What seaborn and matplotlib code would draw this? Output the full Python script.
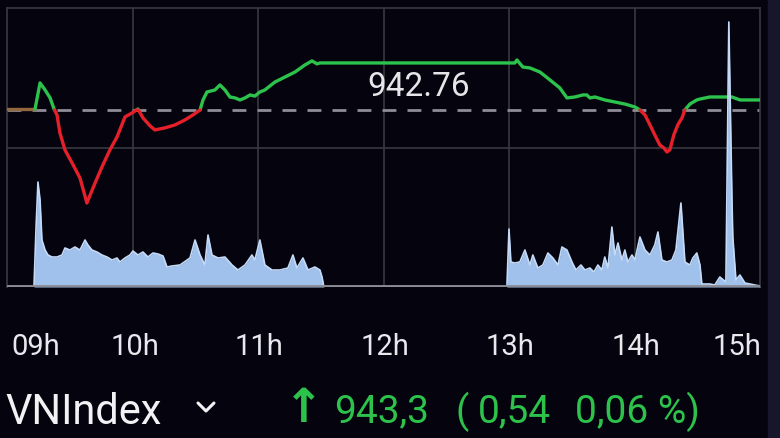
import numpy as np
import pandas as pd
import matplotlib
matplotlib.use("Agg")
import matplotlib.pyplot as plt
import seaborn as sns
from matplotlib.lines import Line2D
from matplotlib.patches import Rectangle

# intraday VN-Index, x = minutes after 09:00
ref_price = 942.76
price_min = [0, 13.4, 15.8, 18.2, 20.6, 22.5, 23.9, 25.3, 27.7, 31.1, 34.9, 38.2, 42.1, 45.4,
             49.2, 52.6, 56.4, 59.8, 62.6, 65.0, 68.4, 70.7, 75.5, 80.3, 85.1, 88.9, 92.3,
             93.7, 95.6, 99.4, 101.8, 104.2, 106.6, 109.0, 111.4, 113.8, 116.2, 118.5, 120.9,
             123.3, 128.1, 132.9, 137.7, 142.4, 145.8, 148.2, 149.6, 240.4, 242.8, 243.8,
             246.6, 250.0, 254.8, 259.6, 264.3, 267.7, 271.5, 275.3, 277.2, 278.7, 281.1,
             285.8, 290.6, 295.4, 300.2, 302.6, 305.0, 307.4, 309.7, 312.1, 314.0, 315.5,
             316.9, 318.8, 320.7, 322.7, 324.1, 326.5, 329.8, 331.3, 336.0, 340.8, 344.6,
             346.6, 350.4, 360.0]
price_val = [942.81, 942.81, 944.22, 943.84, 943.41, 942.81, 942.49, 941.52, 940.60, 939.90,
             939.08, 937.73, 938.81, 939.68, 940.60, 941.30, 942.38, 942.60, 942.81, 942.33,
             941.90, 941.68, 941.79, 941.95, 942.22, 942.49, 942.76, 943.30, 943.73, 943.84,
             944.11, 943.84, 943.46, 943.41, 943.30, 943.41, 943.57, 943.51, 943.73, 943.84,
             944.27, 944.54, 944.81, 945.19, 945.41, 945.25, 945.30, 945.30, 945.30, 945.46,
             945.08, 945.03, 944.81, 944.38, 943.95, 943.41, 943.46, 943.57, 943.57, 943.41,
             943.46, 943.30, 943.19, 943.08, 942.92, 942.76, 942.49, 941.95, 941.41, 940.87,
             940.71, 940.49, 940.60, 941.41, 941.95, 942.33, 942.76, 943.08, 943.30, 943.35,
             943.46, 943.46, 943.46, 943.46, 943.30, 943.30, 943.25]

vol_min = [0, 12.9, 13.9, 14.8, 15.8, 16.7, 18.2, 19.6, 21.5, 23.9, 26.3, 27.7, 30.1, 32.5,
           34.9, 37.3, 38.7, 40.6, 43.0, 45.4, 47.8, 50.2, 52.6, 54.0, 56.4, 58.8, 60.2,
           62.6, 65.0, 67.4, 69.8, 72.2, 74.6, 76.5, 78.9, 82.7, 87.5, 89.9, 92.3, 94.6,
           96.1, 98.0, 100.9, 104.2, 107.6, 110.4, 113.8, 117.1, 118.5, 120.9, 123.3, 126.7,
           130.5, 134.3, 136.7, 138.6, 141.5, 143.9, 147.2, 149.6, 150.6, 151.5,
           239.0, 240.0, 240.9, 242.8, 245.2, 247.6, 250.0, 251.4, 253.8, 256.2, 258.6,
           261.0, 263.4, 265.3, 267.7, 270.1, 272.0, 274.4, 276.3, 278.7, 280.6, 282.5,
           284.4, 285.8, 287.3, 289.2, 290.6, 292.1, 294.0, 295.4, 296.8, 298.8, 300.2,
           302.6, 305.0, 307.4, 309.7, 311.2, 313.1, 315.5, 317.9, 319.8, 322.2, 324.1,
           326.5, 327.9, 329.8, 331.3, 332.2, 336.0, 338.4, 340.8, 343.7, 345.1, 346.6,
           347.0, 348.5, 350.4, 352.8, 355.2, 357.5, 360.0]
vol_val = [0, 0, 60, 105, 87, 47, 37, 32, 30, 30, 32, 39, 37, 40, 37, 47, 42, 37, 35, 32, 30,
           27, 29, 25, 29, 32, 36, 32, 35, 30, 34, 33, 31, 20, 21, 22, 29, 47, 32, 22, 52,
           32, 29, 30, 22, 17, 22, 32, 27, 47, 22, 17, 17, 19, 32, 19, 29, 17, 20, 17, 10, 0,
           0, 58, 25, 24, 25, 37, 22, 32, 19, 22, 34, 29, 22, 40, 37, 25, 17, 22, 17, 19,
           15, 22, 17, 30, 19, 60, 32, 44, 27, 37, 25, 32, 27, 50, 37, 32, 42, 55, 27, 25,
           27, 37, 84, 25, 22, 29, 34, 22, 3, 3, 2, 10, 5, 265, 87, 50, 7, 12, 4, 3, 2, 1]

hour_labels = ["09h", "10h", "11h", "12h", "13h", "14h", "15h"]
hour_label_pos = [13.5, 61, 120.5, 180.5, 240.5, 300.5, 349]
grid_pos = [60, 120, 180, 240, 300]

index_name = "VNIndex"
last_price = "943,3"
change_abs = "0,54"
change_pct = "0,06 %)"

bg = "#05040e"
green = "#2cc24c"
red = "#e5202a"

sns.set_theme(style="dark")
plt.rcParams["font.family"] = ["Roboto", "DejaVu Sans"]

fig = plt.figure(figsize=(7.8, 4.38), dpi=100, facecolor=bg)
fig.patches.append(Rectangle((768 / 780, 0), 12 / 780, 1, transform=fig.transFigure,
                             color="#17162a", zorder=0))
ax = fig.add_axes([7 / 780, 151 / 438, 753 / 780, 279 / 438])
ax.set_facecolor(bg)

# split price path into green / red pieces around the reference
xs, ys = [price_min[0]], [price_val[0]]
for i in range(1, len(price_min)):
    x0, y0, x1, y1 = price_min[i - 1], price_val[i - 1], price_min[i], price_val[i]
    if (y0 - ref_price) * (y1 - ref_price) < 0:
        xc = x0 + (ref_price - y0) * (x1 - x0) / (y1 - y0)
        xs.append(xc)
        ys.append(ref_price)
    xs.append(x1)
    ys.append(y1)

rows, seg, prev = [], 0, None
for i in range(1, len(xs)):
    if xs[i] <= 13.4:
        side = "pre"
    else:
        side = "up" if (ys[i - 1] + ys[i]) / 2 >= ref_price else "down"
    if side != prev:
        seg += 1
        rows.append((seg, side, xs[i - 1], ys[i - 1]))
        prev = side
    rows.append((seg, side, xs[i], ys[i]))
df = pd.DataFrame(rows, columns=["seg", "side", "t", "price"])

ax.axhline(ref_price, color="#8d8c98", lw=2, dashes=(5, 4), zorder=2)
sns.lineplot(data=df, x="t", y="price", hue="side", units="seg", estimator=None, sort=False,
             palette={"up": green, "down": red, "pre": "#94683e"}, lw=2.4, legend=False,
             ax=ax, zorder=3)
ax.text(197, 944.0, f"{ref_price:.2f}", color="#e6e6ea", fontsize=24, ha="center",
        va="center", zorder=4)

ax.set_xlim(0, 360)
ax.set_ylim(933.19, 948.27)
ax.set_xticks(grid_pos)
ax.set_yticks([(933.19 + 948.27) / 2])
ax.tick_params(length=0, labelbottom=False, labelleft=False)
ax.grid(True, color="#383840", lw=1.2)
ax.set_xlabel("")
ax.set_ylabel("")
for s in ["top", "left", "right"]:
    ax.spines[s].set_visible(True)
    ax.spines[s].set_color("#3a3a42")
    ax.spines[s].set_linewidth(1.2)
ax.spines["bottom"].set_visible(False)

# volume on a twin axis
axv = ax.twinx()
axv.fill_between(vol_min, vol_val, 0, color="#9fc1ec", lw=0, zorder=1)
sns.lineplot(x=vol_min, y=vol_val, color="#c4daf6", lw=1.2, estimator=None, sort=False,
             ax=axv, zorder=2)
axv.axhline(0, color="#8c8c94", lw=3.5, zorder=3)
axv.set_ylim(0, 279)
axv.set_xlim(0, 360)
axv.set_yticks([])
axv.grid(False)
for s in axv.spines.values():
    s.set_visible(False)

for lab, pos in zip(hour_labels, hour_label_pos):
    ax.text(pos, -0.215, lab, transform=ax.get_xaxis_transform(), ha="center", va="center",
            color="#e8e8ee", fontsize=21)

fig.text(5 / 780, 1 - 412 / 438, index_name, color="#f2f2f5", fontsize=30, ha="left",
         va="center")
fig.add_artist(Line2D([198 / 780, 206 / 780, 214 / 780],
                      [1 - 403 / 438, 1 - 411 / 438, 1 - 403 / 438],
                      color="#f2f2f5", lw=2.2))
fig.text(304 / 780, 1 - 410 / 438, "\u2191", color=green, fontsize=34, ha="center",
         va="center", family=["DejaVu Sans"], fontweight="bold")
fig.text(334 / 780, 1 - 412 / 438, last_price, color=green, fontsize=28, ha="left",
         va="center")
fig.text(456 / 780, 1 - 412 / 438, "(", color=green, fontsize=28, ha="left", va="center")
fig.text(478 / 780, 1 - 412 / 438, change_abs, color=green, fontsize=28, ha="left",
         va="center")
fig.text(575 / 780, 1 - 412 / 438, change_pct, color=green, fontsize=28, ha="left",
         va="center")

fig.savefig("out.png", dpi=100, facecolor=bg)
